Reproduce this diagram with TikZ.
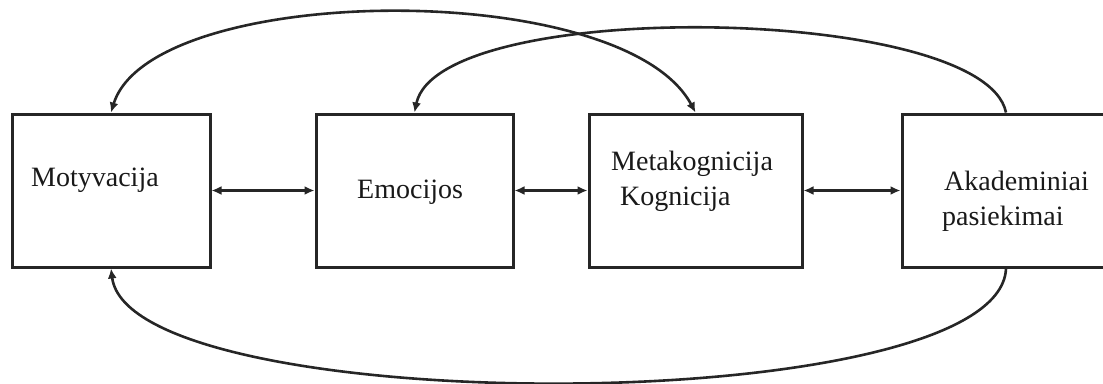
\documentclass[tikz,border=0pt]{standalone}
\usepackage{fontspec}
\setmainfont{Liberation Serif}
\usetikzlibrary{arrows.meta}
\begin{document}
\begin{tikzpicture}[x=1pt,y=-1pt,
  box/.style={draw=black!85,line width=3pt,rectangle,inner sep=0pt},
  lbl/.style={font=\fontsize{28}{34}\selectfont,text=black!90,inner sep=0pt,anchor=base west},
  link/.style={draw=black!85,line width=2.6pt},
  tip/.style={-{Latex[length=10pt,width=9pt]}},
  both/.style={{Latex[length=10pt,width=9pt]}-{Latex[length=10pt,width=9pt]}}]
\useasboundingbox (0,0) rectangle (1103,383);
% the four boxes
\node[box,minimum width=198pt,minimum height=153pt] (mot) at (111,190.5) {};
\node[box,minimum width=197pt,minimum height=153pt] (emo) at (414.5,190.5) {};
\node[box,minimum width=213pt,minimum height=153pt] (kog) at (695.5,190.5) {};
\node[box,minimum width=208pt,minimum height=153pt] (aka) at (1006,190.5) {};
% box texts
\node[lbl] (tmot) at (31,186) {Motyvacija};
\node[lbl] (temo) at (357,198) {Emocijos};
\node[lbl] (tkog1) at (611,170) {Metakognicija};
\node[lbl] (tkog2) at (620,205) {Kognicija};
\node[lbl] (taka1) at (944,190) {Akademiniai};
\node[lbl] (taka2) at (942,225) {pasiekimai};
% neighbour links
\draw[link,both] (mot) -- (emo);
\draw[link,both] (emo) -- (kog);
\draw[link,both] (kog) -- (aka);
% feedback loops
\draw[link,both] (mot.north) .. controls +(40,-130) and +(-73,-136) .. (kog.north);
\draw[link,tip] (aka.north) .. controls +(-22,-108) and +(24,-116) .. (emo.north);
\draw[link,tip] (aka.south) .. controls +(-6,152) and +(19,152) .. (mot.south);
\end{tikzpicture}
\end{document}
